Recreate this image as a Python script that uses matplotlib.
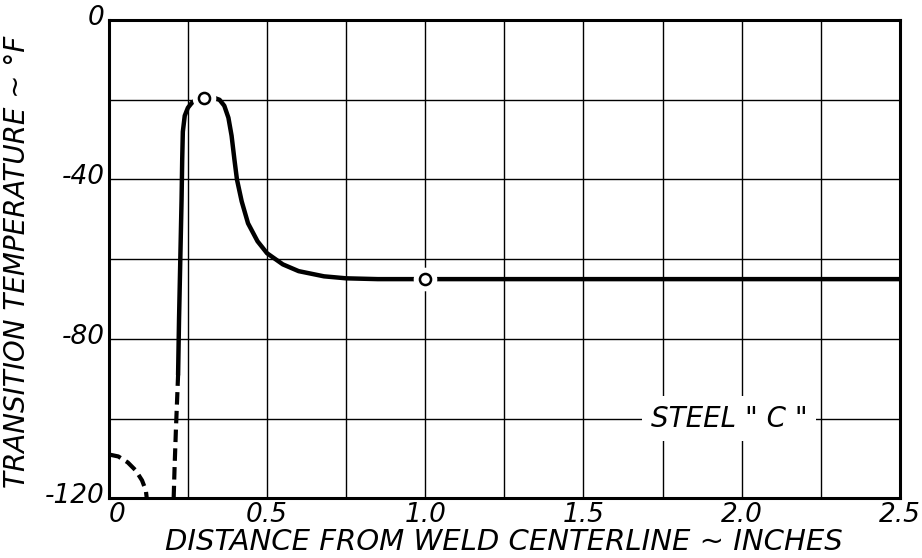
import numpy as np
import matplotlib
matplotlib.use("Agg")
import matplotlib.pyplot as plt
import matplotlib.transforms as mtransforms

# --- data ---
# dashed lower part of the rising branch (uncertain region)
rise_dash_x = [0.205, 0.208, 0.212, 0.216, 0.219]
rise_dash_y = [-120, -112, -103, -95, -89]

# solid curve: rising branch, peak, drop and plateau
curve_x = [0.219, 0.222, 0.226, 0.230, 0.232, 0.234, 0.240, 0.250, 0.262, 0.275, 0.300,
           0.325, 0.350, 0.365, 0.378, 0.388, 0.397, 0.405, 0.420, 0.440, 0.470, 0.500,
           0.550, 0.600, 0.680, 0.750, 0.850, 1.000, 1.500, 2.000, 2.500]
curve_y = [-89, -75, -60, -45, -35, -28, -24, -22, -20.8, -20, -19.2,
           -19.3, -20, -21.5, -24.5, -29, -35, -40, -45.5, -51, -55.5, -58.5,
           -61.3, -63, -64.3, -64.8, -65, -65, -65, -65, -65]

# small dashed arc near the origin
arc_x = [0.0, 0.03, 0.06, 0.085, 0.105, 0.117, 0.12]
arc_y = [-109, -109.5, -111, -113, -115.5, -118, -120]

# open circle data points
pts_x = [0.30, 1.00]
pts_y = [-19.5, -65]

x_ticks = [0, 0.5, 1.0, 1.5, 2.0, 2.5]
x_ticklabels = ["0", "0.5", "1.0", "1.5", "2.0", "2.5"]
y_ticks = [0, -40, -80, -120]
y_ticklabels = ["0", "-40", "-80", "-120"]

FONT = dict(family="DejaVu Sans", style="italic")

fig = plt.figure(figsize=(9.22, 5.58), dpi=100)
ax = fig.add_axes([0.118, 0.107, 0.858, 0.857])

ax.set_xlim(0, 2.5)
ax.set_ylim(-120, 0)

# grid every 0.25 in and every 20 deg
ax.set_xticks(np.arange(0, 2.51, 0.25), minor=True)
ax.set_yticks(np.arange(-120, 1, 20), minor=True)

ax.set_xticks(x_ticks)
ax.set_xticklabels(x_ticklabels, fontsize=19, **FONT)
ax.set_yticks(y_ticks)
ax.set_yticklabels(y_ticklabels, fontsize=19, **FONT)
ax.tick_params(which="both", length=0, pad=3)
ax.grid(True, which="both", color="black", linewidth=1.0)
ax.set_axisbelow(True)

# nudge labels like the hand lettering: y labels sit a bit above their lines,
# the x "0" sits right of the corner
up = mtransforms.ScaledTranslation(0, 5 / 100, fig.dpi_scale_trans)
for lab in ax.get_yticklabels():
    lab.set_transform(lab.get_transform() + up)
right = mtransforms.ScaledTranslation(8 / 100, 0, fig.dpi_scale_trans)
xl0 = ax.get_xticklabels()[0]
xl0.set_transform(xl0.get_transform() + right)

for s in ax.spines.values():
    s.set_linewidth(2.2)
    s.set_color("black")

ax.plot(rise_dash_x, rise_dash_y, color="black", linewidth=3, linestyle=(0, (3, 1.5)),
        solid_capstyle="butt")
ax.plot(arc_x, arc_y, color="black", linewidth=3, linestyle=(0, (3, 1.5)), clip_on=False)
ax.plot(curve_x, curve_y, color="black", linewidth=3.2, solid_capstyle="round")

# white halo then open circle, so the line breaks around each point
ax.plot(pts_x, pts_y, linestyle="none", marker="o", markersize=16,
        markerfacecolor="white", markeredgecolor="white", zorder=4)
ax.plot(pts_x, pts_y, linestyle="none", marker="o", markersize=8,
        markerfacecolor="white", markeredgecolor="black", markeredgewidth=1.8, zorder=5)

ax.text(1.96, -100, 'STEEL " C "', fontsize=20, ha="center", va="center", zorder=6,
        bbox=dict(facecolor="white", edgecolor="none", pad=6), **FONT)

ax.set_xlabel("DISTANCE FROM WELD CENTERLINE ~ INCHES", fontsize=21, labelpad=0, **FONT)
ax.set_ylabel("TRANSITION TEMPERATURE ~ \u00b0F", fontsize=20, labelpad=0, **FONT)
ax.yaxis.set_label_coords(-0.098, 0.494)

plt.savefig("out.png", dpi=100)
plt.close()
